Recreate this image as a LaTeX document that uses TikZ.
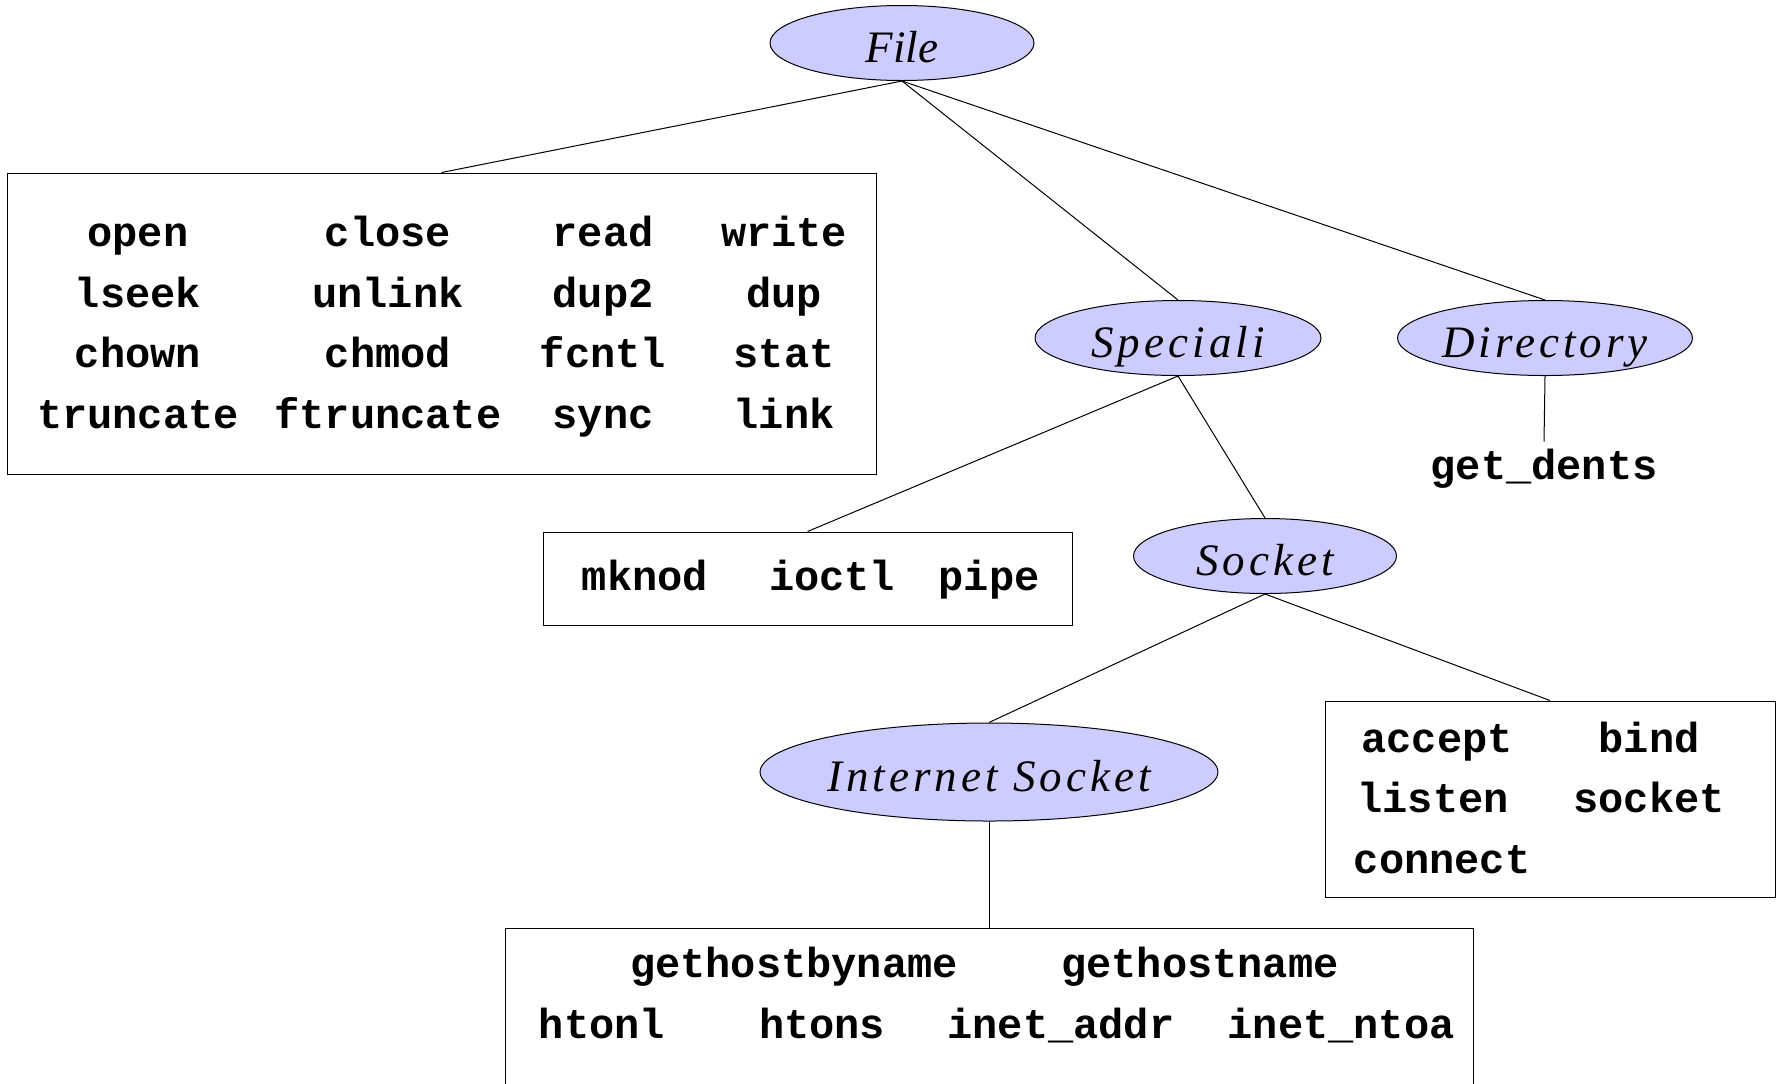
\documentclass[tikz,border=0pt]{standalone}
\usepackage{fontspec}
\setmonofont{Liberation Mono}
\newfontfamily\classfont{Liberation Serif}[LetterSpace=9]
\newfontfamily\rootfont{Liberation Serif}
\usetikzlibrary{shapes.geometric}
\definecolor{classblue}{HTML}{CCCCFF}
\tikzset{
  classnode/.style={ellipse, draw=black, line width=0.5pt, fill=classblue, inner sep=0pt,
    text height=19pt, text depth=0pt,
    font=\classfont\itshape\fontsize{22.5}{24}\selectfont},
  callbox/.style={rectangle, draw=black, line width=0.5pt, inner sep=0pt},
  callname/.style={anchor=base, font=\ttfamily\bfseries\fontsize{21}{21}\selectfont},
  link/.style={line width=0.5pt}
}

\begin{document}
\begin{tikzpicture}[x=0.5pt, y=-0.5pt]
\clip (0,0) rectangle (1781,1083);
\useasboundingbox (0,0) rectangle (1781,1083);

% Class ellipses
\node[classnode, minimum width=132pt, minimum height=37.5pt, font=\rootfont\itshape\fontsize{22.5}{24}\selectfont] (file) at (902,43) {File};
\node[classnode, minimum width=143pt, minimum height=37.5pt] (special) at (1178,338) {Speciali};
\node[classnode, minimum width=147.5pt, minimum height=37.5pt] (directory) at (1545,338) {Directory};
\node[classnode, minimum width=131.5pt, minimum height=37.5pt] (socket) at (1265,556) {Socket};
\node[classnode, minimum width=226.5pt, minimum height=49pt] (inetsocket) at (989,772) {Internet Socket};

% Boxes holding the calls
\node[callbox, minimum width=434.5pt, minimum height=150.5pt] (filebox) at (441.5,323.5) {};
\node[callbox, minimum width=264.5pt, minimum height=46.5pt] (specialbox) at (807.5,578.5) {};
\node[callbox, minimum width=225pt, minimum height=98pt] (socketbox) at (1550,799) {};
\node[callbox, minimum width=484pt, minimum height=100pt] (inetbox) at (989,1028) {};

% File calls
\node[callname] (open) at (138,246) {open};
\node[callname] (close) at (388,246) {close};
\node[callname] (read) at (603,246) {read};
\node[callname] (write) at (784,246) {write};
\node[callname] (lseek) at (138,307) {lseek};
\node[callname] (unlink) at (388,307) {unlink};
\node[callname] (dup2) at (603,307) {dup2};
\node[callname] (dup) at (784,307) {dup};
\node[callname] (chown) at (138,367) {chown};
\node[callname] (chmod) at (388,367) {chmod};
\node[callname] (fcntl) at (603,367) {fcntl};
\node[callname] (stat) at (784,367) {stat};
\node[callname] (truncate) at (138,428) {truncate};
\node[callname] (ftruncate) at (388,428) {ftruncate};
\node[callname] (sync) at (603,428) {sync};
\node[callname] (link) at (784,428) {link};

% Special file calls
\node[callname] (mknod) at (645,590) {mknod};
\node[callname] (ioctl) at (832,590) {ioctl};
\node[callname] (pipe) at (989,590) {pipe};

% Directory call
\node[callname] (getdents) at (1544,479) {get\_dents};

% Socket calls
\node[callname] (accept) at (1437,752) {accept};
\node[callname] (bind) at (1649,752) {bind};
\node[callname] (listen) at (1433,812) {listen};
\node[callname] (sockcall) at (1649,812) {socket};
\node[callname] (connect) at (1442,873) {connect};

% Internet socket calls
\node[callname] (gethostbyname) at (794,977) {gethostbyname};
\node[callname] (gethostname) at (1200,977) {gethostname};
\node[callname] (htonl) at (602,1038) {htonl};
\node[callname] (htons) at (822,1038) {htons};
\node[callname] (inetaddr) at (1061,1038) {inet\_addr};
\node[callname] (inetntoa) at (1341,1038) {inet\_ntoa};

% Tree lines
\draw[link] (file.south) -- (filebox.north);
\draw[link] (file.south) -- (special.north);
\draw[link] (file.south) -- (directory.north);
\draw[link] (special.south) -- (specialbox.north);
\draw[link] (special.south) -- (socket.north);
\draw[link] (directory.south) -- (getdents.north);
\draw[link] (socket.south) -- (inetsocket.north);
\draw[link] (socket.south) -- (socketbox.north);
\draw[link] (inetsocket.south) -- (inetbox.north);
\end{tikzpicture}
\end{document}
